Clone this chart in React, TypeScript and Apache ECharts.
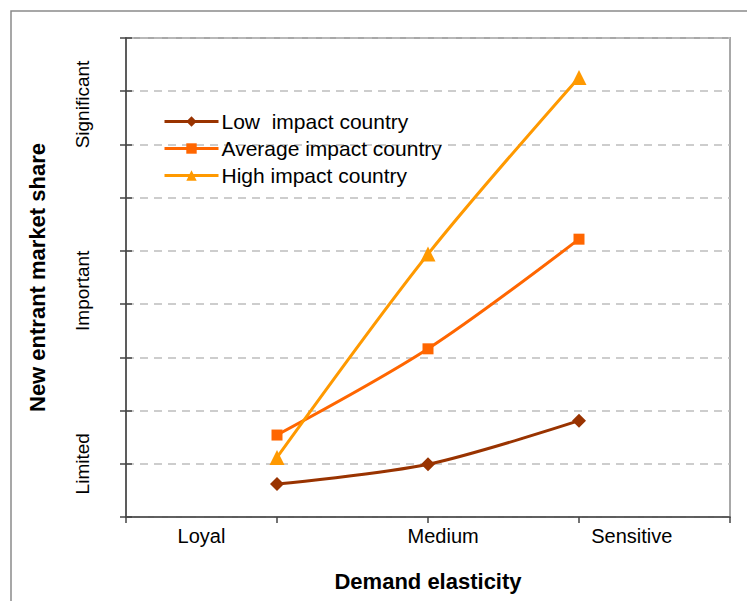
import React, { useEffect, useRef } from "react";
import * as echarts from "echarts";

const seriesNames = ["Low  impact country", "Average impact country", "High impact country"];
const xPositions = [1, 2, 3];
const lowValues = [0.62, 0.99, 1.81];
const averageValues = [1.54, 3.16, 5.22];
const highValues = [1.12, 4.94, 8.26];
const xTickLabels: [number, string][] = [[0.5, "Loyal"], [2.1, "Medium"], [3.35, "Sensitive"]];
const yTickLabels: [number, string][] = [[1, "Limited"], [4.25, "Important"], [7.75, "Significant"]];
const colors = ["#993300", "#FF6600", "#FF9900"];
const symbols = ["diamond", "rect", "triangle"];
const symbolSizes = [14, 11, 15];

const FONT = "'Liberation Sans', Arial, Helvetica, sans-serif";

export default function App() {
  const ref = useRef<HTMLDivElement>(null);
  useEffect(() => {
    if (!ref.current) return;
    const chart = echarts.init(ref.current, undefined, { renderer: "svg" });
    const valueSets = [lowValues, averageValues, highValues];
    const xLabelMap = new Map(xTickLabels.map(([v, t]) => [Math.round(v * 100), t]));
    const yLabelMap = new Map(yTickLabels.map(([v, t]) => [Math.round(v * 100), t]));
    chart.setOption({
      animation: false,
      backgroundColor: "#ffffff",
      textStyle: { fontFamily: FONT },
      graphic: [
        {
          type: "rect",
          z: -10,
          silent: true,
          shape: { x: 11, y: 11, width: 800, height: 700 },
          style: { fill: "none", stroke: "#8a8a8a", lineWidth: 1.5 },
        },
      ],
      grid: {
        left: 126,
        top: 38,
        right: 17,
        bottom: 84,
        show: true,
        borderColor: "#a8a8a8",
        borderWidth: 2,
        backgroundColor: "transparent",
      },
      legend: {
        orient: "vertical",
        left: 163,
        top: 111,
        padding: 0,
        itemWidth: 54,
        itemHeight: 13,
        itemGap: 6,
        lineStyle: { width: 3 },
        textStyle: { fontSize: 21, color: "#000", fontFamily: FONT, padding: [0, 0, 0, -2] },
        data: seriesNames,
      },
      xAxis: [
        {
          type: "value",
          min: 0,
          max: 4,
          interval: 1,
          position: "bottom",
          axisLine: { show: true, onZero: false, lineStyle: { color: "#444", width: 1.5 } },
          axisTick: { show: true, length: 6, lineStyle: { color: "#444", width: 1.5 } },
          axisLabel: { show: false },
          splitLine: { show: false },
          name: "Demand elasticity",
          nameLocation: "middle",
          nameGap: 53,
          nameTextStyle: { fontSize: 22, fontWeight: "bold", color: "#000", fontFamily: FONT },
        },
        {
          type: "value",
          min: 0,
          max: 4,
          interval: 0.05,
          position: "bottom",
          axisLine: { show: false, onZero: false },
          axisTick: { show: false },
          splitLine: { show: false },
          axisLabel: {
            show: true,
            margin: 9,
            fontSize: 20,
            color: "#000",
            fontFamily: FONT,
            formatter: (v: number) => xLabelMap.get(Math.round(v * 100)) ?? "",
          },
        },
      ],
      yAxis: [
        {
          type: "value",
          min: 0,
          max: 9,
          interval: 1,
          position: "left",
          axisLine: { show: true, onZero: false, lineStyle: { color: "#444", width: 1.5 } },
          axisTick: { show: true, length: 6, lineStyle: { color: "#444", width: 1.5 } },
          axisLabel: { show: false },
          splitLine: { show: true, lineStyle: { color: "#bdbdbd", width: 1.5, type: [8, 6] } },
          name: "New entrant market share",
          nameLocation: "middle",
          nameRotate: 90,
          nameGap: 78,
          nameTextStyle: { fontSize: 22, fontWeight: "bold", color: "#000", fontFamily: FONT },
        },
        {
          type: "value",
          min: 0,
          max: 9,
          interval: 0.25,
          position: "left",
          axisLine: { show: false, onZero: false },
          axisTick: { show: false },
          splitLine: { show: false },
          axisLabel: {
            show: true,
            rotate: 90,
            margin: 34,
            fontSize: 19,
            color: "#000",
            fontFamily: FONT,
            formatter: (v: number) => yLabelMap.get(Math.round(v * 100)) ?? "",
          },
        },
        {
          type: "value",
          min: 0,
          max: 9,
          interval: 1,
          position: "left",
          axisLine: { show: false, onZero: false },
          axisTick: { show: true, inside: true, length: 6, lineStyle: { color: "#444", width: 1.5 } },
          axisLabel: { show: false },
          splitLine: { show: false },
        },
      ],
      series: seriesNames.map((name, i) => ({
        name,
        type: "line",
        xAxisIndex: 0,
        yAxisIndex: 0,
        smooth: 0.3,
        symbol: symbols[i],
        symbolSize: symbolSizes[i],
        itemStyle: { color: colors[i] },
        lineStyle: { color: colors[i], width: 3 },
        data: xPositions.map((x, j) => [x, valueSets[i][j]]),
        z: 3 + i,
      })),
    });
    return () => chart.dispose();
  }, []);
  return (
    <div
      ref={ref}
      style={{ position: "absolute", left: 0, top: 0, width: 747, height: 601 }}
    />
  );
}
